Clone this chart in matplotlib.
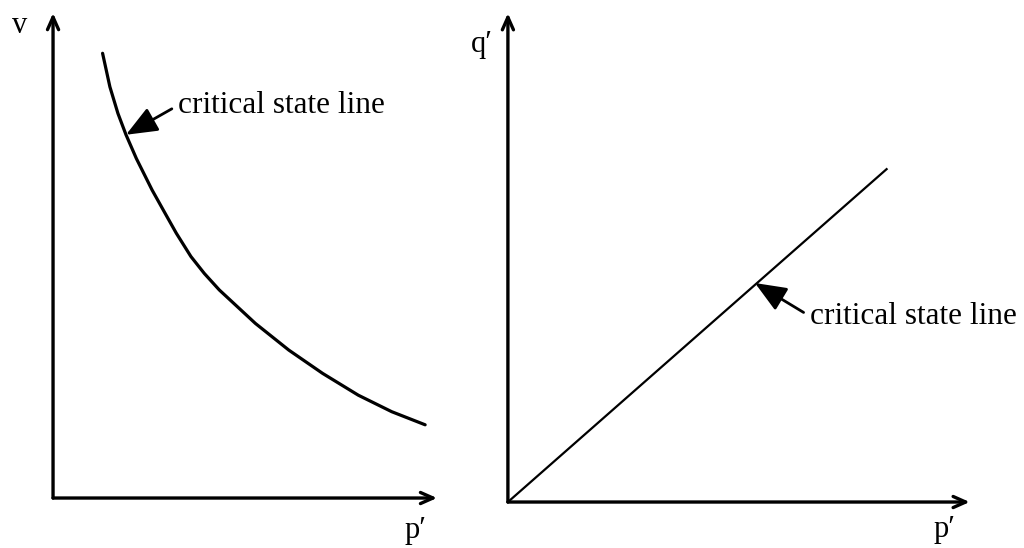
import matplotlib
matplotlib.use("Agg")
import matplotlib.pyplot as plt

# critical state line in v : p' space (arbitrary units 0-10)
p_v = [1.29, 1.48, 1.69, 1.90, 2.17, 2.58, 2.94, 3.21, 3.59, 3.94, 4.33,
       5.27, 6.14, 7.02, 7.95, 8.82, 9.69]
v_csl = [9.17, 8.48, 7.93, 7.49, 7.00, 6.35, 5.84, 5.46, 4.98, 4.63, 4.29,
         3.60, 3.05, 2.57, 2.12, 1.78, 1.51]

# critical state line in q' : p' space (straight line through the origin)
p_q = [0.0, 8.20]
q_csl = [0.0, 6.81]

# where the labels point on each line
v_pointer = (1.90, 7.49)
q_pointer = (5.35, 4.48)
LABEL = "critical state line"

plt.rcParams["font.family"] = ["Liberation Serif", "DejaVu Serif"]

fig = plt.figure(figsize=(10.24, 5.48), dpi=100)
ax_v = fig.add_axes([0.0518, 0.0912, 0.375, 0.885])
ax_q = fig.add_axes([0.496, 0.0839, 0.451, 0.892])

axis_arrow = dict(arrowstyle="->,head_length=0.9,head_width=0.4",
                  color="black", lw=2.4, shrinkA=0, shrinkB=0)
pointer = dict(arrowstyle="-|>,head_length=0.85,head_width=0.35",
               color="black", lw=2.0, shrinkA=3, shrinkB=0, relpos=(0, 0.5))

for ax in (ax_v, ax_q):
    ax.set_xlim(0, 10)
    ax.set_ylim(0, 10)
    ax.axis("off")
    ax.annotate("", xy=(10, 0), xytext=(0, 0), arrowprops=axis_arrow,
                annotation_clip=False)
    ax.annotate("", xy=(0, 10), xytext=(0, 0), arrowprops=axis_arrow,
                annotation_clip=False)

# v - p' panel
ax_v.plot(p_v, v_csl, color="black", lw=2.3, solid_capstyle="round",
          solid_joinstyle="round", clip_on=False)
ax_v.annotate(LABEL, xy=v_pointer, xytext=(3.26, 8.10), ha="left", va="center",
              fontsize=22.5, arrowprops=pointer, annotation_clip=False)
ax_v.text(-0.86, 9.75, "v", fontsize=22, ha="center", va="center", clip_on=False)
ax_v.text(9.43, -0.66, "p\u2032", fontsize=22, ha="center", va="center", clip_on=False)

# q' - p' panel
ax_q.plot(p_q, q_csl, color="black", lw=1.6, clip_on=False)
ax_q.annotate(LABEL, xy=q_pointer, xytext=(6.54, 3.80), ha="left", va="center",
              fontsize=22.5, arrowprops=pointer, annotation_clip=False)
ax_q.text(-0.56, 9.35, "q\u2032", fontsize=22, ha="center", va="center", clip_on=False)
ax_q.text(9.46, -0.57, "p\u2032", fontsize=22, ha="center", va="center", clip_on=False)

fig.savefig("out.png", dpi=100)
